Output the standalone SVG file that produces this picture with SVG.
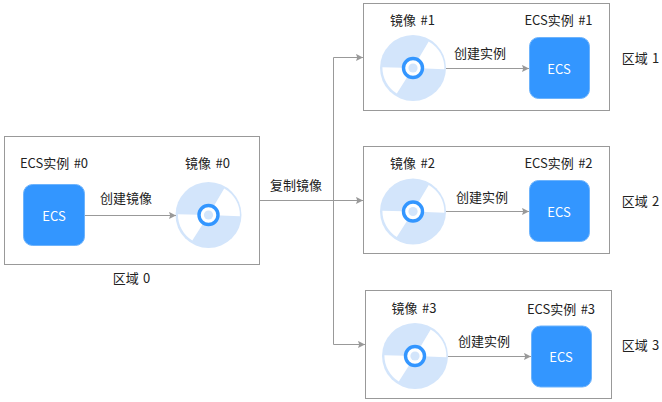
<svg xmlns="http://www.w3.org/2000/svg" width="662" height="402" viewBox="0 0 662 402">
<style>
text{font-family:"Noto Sans CJK SC","Noto Sans",sans-serif;font-size:13px;fill:#222;text-anchor:middle;word-spacing:1.5px}
.region{fill:#fff;stroke:#999;stroke-width:1}
.ecs{fill:#3396ff;stroke:#6db3fc;stroke-width:1}
.ecs-label{fill:#fff}
.line{fill:none;stroke:#999;stroke-width:1}
.pale{fill:#d3e5fb}
.white{fill:#fff}
.ring{fill:#fff;stroke:#3396ff;stroke-width:3.4}
</style>
<defs>
<marker id="arrow" markerUnits="userSpaceOnUse" markerWidth="8" markerHeight="8" refX="7" refY="4" orient="auto"><path d="M0 .4L7 4L0 7.600L1.200 4Z" fill="#999"/></marker>
<g id="disc">
<circle class="pale" r="33"/>
<path class="white" d="M0 0L15.700-26.600A31 31 0 0 1 31.400 1.200ZM0 0L-30.600-.8A31 31 0 0 0-16.200 25.600Z"/>
<circle class="ring" r="9.500"/>
<circle class="pale" r="4.600"/>
</g>
</defs>
<g id="region-0">
<rect class="region" x="4.500" y="136.500" width="255" height="128"/>
<text x="54" y="168">ECS实例 #0</text>
<text x="207.500" y="168">镜像 #0</text>
<text x="131.500" y="283">区域 0</text>
</g>
<g id="ecs-0">
<rect class="ecs" x="23.500" y="184.500" width="61" height="61" rx="9"/>
<text class="ecs-label" x="54" y="221">ECS</text>
</g>
<use id="disc-0" href="#disc" x="208.500" y="215"/>
<g id="region-1">
<rect class="region" x="363.500" y="3.500" width="246" height="107"/>
<text x="412.500" y="25">镜像 #1</text>
<text x="558.500" y="25">ECS实例 #1</text>
<text x="640.500" y="63">区域 1</text>
</g>
<use id="disc-1" href="#disc" x="413" y="68"/>
<g id="ecs-1">
<rect class="ecs" x="529.500" y="37.500" width="60" height="61" rx="9"/>
<text class="ecs-label" x="559" y="74">ECS</text>
</g>
<g id="region-2">
<rect class="region" x="363.500" y="146.500" width="246" height="107"/>
<text x="412.500" y="168">镜像 #2</text>
<text x="558.500" y="168">ECS实例 #2</text>
<text x="640.500" y="206">区域 2</text>
</g>
<use id="disc-2" href="#disc" x="413" y="211.500"/>
<g id="ecs-2">
<rect class="ecs" x="529.500" y="180.500" width="60" height="61" rx="9"/>
<text class="ecs-label" x="559" y="217">ECS</text>
</g>
<g id="region-3">
<rect class="region" x="365.500" y="290.500" width="246" height="108"/>
<text x="414" y="313">镜像 #3</text>
<text x="561" y="314">ECS实例 #3</text>
<text x="640.500" y="350">区域 3</text>
</g>
<use id="disc-3" href="#disc" x="415" y="356"/>
<g id="ecs-3">
<rect class="ecs" x="531.500" y="326" width="60" height="61" rx="9"/>
<text class="ecs-label" x="561" y="362">ECS</text>
</g>
<g id="connectors">
<path class="line" marker-end="url(#arrow)" d="M85 215.500H176"/>
<path class="line" marker-end="url(#arrow)" d="M446 68.500H529"/>
<path class="line" marker-end="url(#arrow)" d="M446 211.500H529"/>
<path class="line" marker-end="url(#arrow)" d="M448 356.500H531"/>
<path class="line" marker-end="url(#arrow)" d="M259.500 200.500H363"/>
<path class="line" marker-end="url(#arrow)" d="M333.500 200.500V57.500H363"/>
<path class="line" marker-end="url(#arrow)" d="M333.500 200.500V344.500H365"/>
</g>
<g id="labels">
<text x="126" y="203">创建镜像</text>
<text x="296" y="190">复制镜像</text>
<text x="480" y="58">创建实例</text>
<text x="482" y="202">创建实例</text>
<text x="484" y="346">创建实例</text>
</g>
</svg>
